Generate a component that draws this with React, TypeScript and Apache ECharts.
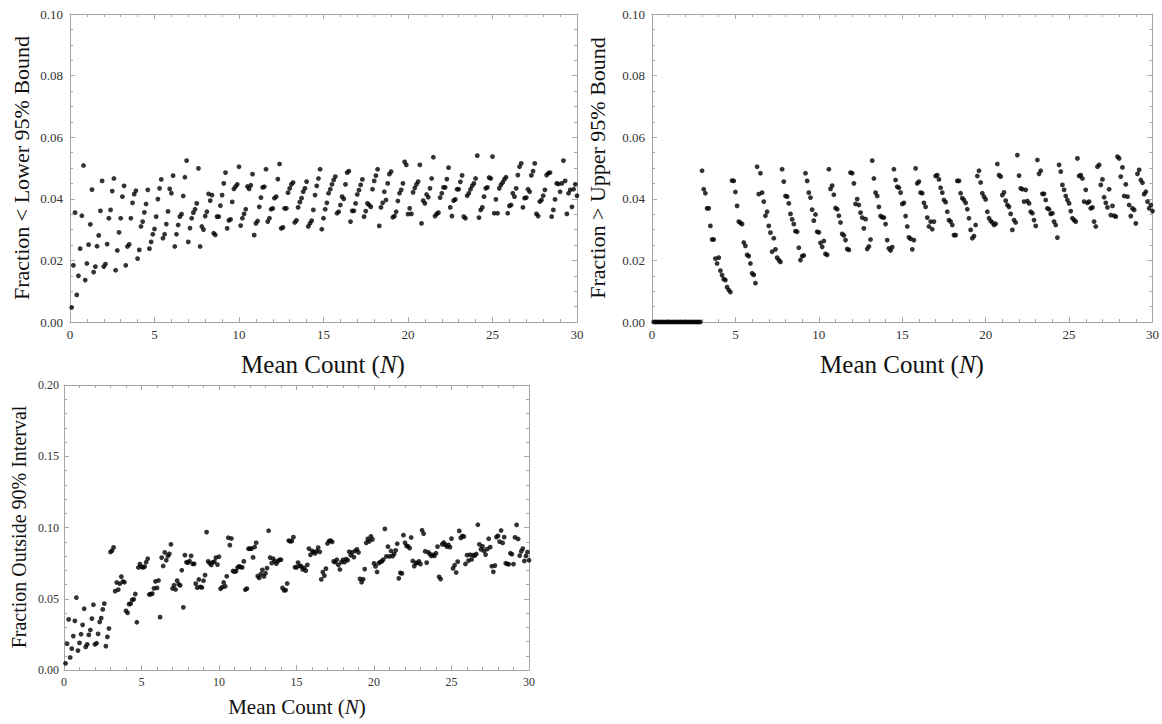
import React, { useEffect, useRef } from "react";
import * as echarts from "echarts";

// Mean count grid: N = 0.1, 0.2, ..., 30.0
const meanCounts: number[] = Array.from({ length: 300 }, (_, i) => (i + 1) / 10);

// Fraction < lower 95% bound (top-left panel)
const lowerFrac: number[] = [
  0.0047, 0.0184, 0.0355, 0.0088, 0.0150, 0.0238, 0.0345, 0.0508, 0.0136, 0.0190,
  0.0251, 0.0317, 0.0430, 0.0162, 0.0180, 0.0246, 0.0281, 0.0361, 0.0458, 0.0180,
  0.0188, 0.0253, 0.0337, 0.0364, 0.0425, 0.0466, 0.0168, 0.0232, 0.0291, 0.0337,
  0.0407, 0.0442, 0.0184, 0.0245, 0.0252, 0.0337, 0.0387, 0.0415, 0.0426, 0.0206,
  0.0234, 0.0310, 0.0326, 0.0356, 0.0383, 0.0429, 0.0238, 0.0260, 0.0285, 0.0302,
  0.0342, 0.0399, 0.0434, 0.0463, 0.0272, 0.0285, 0.0318, 0.0359, 0.0432, 0.0418,
  0.0475, 0.0245, 0.0285, 0.0315, 0.0342, 0.0350, 0.0409, 0.0470, 0.0524, 0.0260,
  0.0305, 0.0337, 0.0355, 0.0366, 0.0385, 0.0499, 0.0245, 0.0310, 0.0300, 0.0344,
  0.0358, 0.0416, 0.0394, 0.0412, 0.0288, 0.0283, 0.0342, 0.0342, 0.0378, 0.0412,
  0.0450, 0.0485, 0.0304, 0.0330, 0.0333, 0.0390, 0.0432, 0.0440, 0.0447, 0.0504,
  0.0313, 0.0337, 0.0351, 0.0366, 0.0440, 0.0432, 0.0444, 0.0480, 0.0282, 0.0320,
  0.0328, 0.0374, 0.0404, 0.0437, 0.0439, 0.0496, 0.0326, 0.0337, 0.0366, 0.0369,
  0.0402, 0.0407, 0.0464, 0.0513, 0.0304, 0.0307, 0.0369, 0.0369, 0.0420, 0.0434,
  0.0447, 0.0453, 0.0323, 0.0330, 0.0372, 0.0389, 0.0402, 0.0423, 0.0434, 0.0456,
  0.0310, 0.0320, 0.0329, 0.0364, 0.0412, 0.0442, 0.0466, 0.0496, 0.0301, 0.0337,
  0.0366, 0.0387, 0.0418, 0.0431, 0.0447, 0.0461, 0.0472, 0.0353, 0.0358, 0.0380,
  0.0407, 0.0400, 0.0447, 0.0485, 0.0490, 0.0326, 0.0361, 0.0361, 0.0385, 0.0414,
  0.0428, 0.0445, 0.0463, 0.0342, 0.0360, 0.0385, 0.0380, 0.0374, 0.0431, 0.0458,
  0.0475, 0.0496, 0.0312, 0.0372, 0.0387, 0.0423, 0.0396, 0.0450, 0.0480, 0.0488,
  0.0340, 0.0344, 0.0358, 0.0393, 0.0418, 0.0429, 0.0450, 0.0520, 0.0510, 0.0350,
  0.0369, 0.0351, 0.0421, 0.0435, 0.0447, 0.0456, 0.0510, 0.0320, 0.0394, 0.0385,
  0.0414, 0.0405, 0.0434, 0.0466, 0.0535, 0.0344, 0.0351, 0.0355, 0.0404, 0.0418,
  0.0437, 0.0437, 0.0464, 0.0501, 0.0372, 0.0344, 0.0394, 0.0398, 0.0431, 0.0431,
  0.0455, 0.0476, 0.0342, 0.0337, 0.0410, 0.0418, 0.0431, 0.0442, 0.0450, 0.0466,
  0.0540, 0.0339, 0.0364, 0.0372, 0.0407, 0.0434, 0.0437, 0.0469, 0.0466, 0.0537,
  0.0353, 0.0398, 0.0353, 0.0434, 0.0445, 0.0453, 0.0463, 0.0470, 0.0353, 0.0377,
  0.0380, 0.0418, 0.0407, 0.0434, 0.0477, 0.0504, 0.0515, 0.0372, 0.0402, 0.0404,
  0.0431, 0.0423, 0.0476, 0.0490, 0.0515, 0.0351, 0.0344, 0.0391, 0.0396, 0.0410,
  0.0429, 0.0477, 0.0483, 0.0485, 0.0342, 0.0364, 0.0398, 0.0450, 0.0448, 0.0423,
  0.0450, 0.0524, 0.0458, 0.0351, 0.0418, 0.0429, 0.0374, 0.0431, 0.0447, 0.0410,
];

// Fraction > upper 95% bound (top-right panel)
const upperFrac: number[] = [
  0, 0, 0, 0, 0, 0, 0, 0, 0, 0,
  0, 0, 0, 0, 0, 0, 0, 0, 0, 0,
  0, 0, 0, 0, 0, 0, 0, 0, 0,
  0.0491, 0.0431, 0.0418, 0.0369, 0.0369, 0.0312, 0.0268, 0.0268, 0.0206, 0.0190,
  0.0209, 0.0167, 0.0152, 0.0139, 0.0136, 0.0113, 0.0104, 0.0097, 0.0459, 0.0458,
  0.0422, 0.0377, 0.0326, 0.0322, 0.0318, 0.0258, 0.0247, 0.0218, 0.0214, 0.0190,
  0.0158, 0.0153, 0.0126, 0.0504, 0.0415, 0.0483, 0.0420, 0.0391, 0.0345, 0.0358,
  0.0312, 0.0290, 0.0228, 0.0272, 0.0236, 0.0209, 0.0201, 0.0195, 0.0496, 0.0456,
  0.0409, 0.0407, 0.0385, 0.0351, 0.0333, 0.0318, 0.0295, 0.0293, 0.0241, 0.0201,
  0.0214, 0.0216, 0.0483, 0.0458, 0.0420, 0.0404, 0.0365, 0.0329, 0.0349, 0.0293,
  0.0291, 0.0257, 0.0244, 0.0263, 0.0221, 0.0218, 0.0496, 0.0432, 0.0443, 0.0413,
  0.0370, 0.0366, 0.0345, 0.0323, 0.0286, 0.0281, 0.0266, 0.0237, 0.0234, 0.0485,
  0.0483, 0.0450, 0.0383, 0.0399, 0.0380, 0.0355, 0.0339, 0.0304, 0.0334, 0.0237,
  0.0245, 0.0268, 0.0524, 0.0466, 0.0420, 0.0409, 0.0374, 0.0344, 0.0340, 0.0339,
  0.0318, 0.0266, 0.0239, 0.0232, 0.0243, 0.0496, 0.0461, 0.0439, 0.0436, 0.0420,
  0.0383, 0.0387, 0.0344, 0.0310, 0.0275, 0.0270, 0.0236, 0.0266, 0.0499, 0.0450,
  0.0456, 0.0420, 0.0418, 0.0387, 0.0374, 0.0339, 0.0310, 0.0326, 0.0301, 0.0326,
  0.0474, 0.0477, 0.0463, 0.0436, 0.0420, 0.0396, 0.0389, 0.0358, 0.0331, 0.0326,
  0.0315, 0.0282, 0.0282, 0.0458, 0.0458, 0.0418, 0.0402, 0.0396, 0.0387, 0.0366,
  0.0337, 0.0299, 0.0272, 0.0279, 0.0315, 0.0474, 0.0491, 0.0453, 0.0418, 0.0407,
  0.0398, 0.0358, 0.0337, 0.0328, 0.0323, 0.0315, 0.0319, 0.0513, 0.0477, 0.0472,
  0.0412, 0.0421, 0.0394, 0.0380, 0.0374, 0.0351, 0.0299, 0.0331, 0.0323, 0.0542,
  0.0475, 0.0434, 0.0431, 0.0391, 0.0429, 0.0393, 0.0385, 0.0358, 0.0353, 0.0331,
  0.0312, 0.0526, 0.0481, 0.0491, 0.0416, 0.0416, 0.0396, 0.0369, 0.0366, 0.0351,
  0.0353, 0.0326, 0.0315, 0.0274, 0.0510, 0.0488, 0.0445, 0.0429, 0.0409, 0.0396,
  0.0385, 0.0360, 0.0337, 0.0331, 0.0326, 0.0531, 0.0474, 0.0477, 0.0466, 0.0391,
  0.0429, 0.0387, 0.0391, 0.0369, 0.0372, 0.0326, 0.0310, 0.0504, 0.0510, 0.0445,
  0.0463, 0.0405, 0.0387, 0.0372, 0.0431, 0.0347, 0.0377, 0.0345, 0.0342, 0.0537,
  0.0531, 0.0472, 0.0502, 0.0409, 0.0447, 0.0407, 0.0380, 0.0344, 0.0369, 0.0364,
  0.0320, 0.0481, 0.0494, 0.0461, 0.0452, 0.0415, 0.0423, 0.0391, 0.0369, 0.0380,
  0.0360,
];

// Fraction outside 90% interval (bottom-left panel)
const outsideFrac: number[] = [
  0.0047, 0.0184, 0.0355, 0.0088, 0.0150, 0.0238, 0.0345, 0.0508, 0.0136, 0.0190,
  0.0251, 0.0317, 0.0430, 0.0162, 0.0180, 0.0246, 0.0281, 0.0361, 0.0458, 0.0180,
  0.0188, 0.0253, 0.0337, 0.0364, 0.0425, 0.0466, 0.0168, 0.0232, 0.0291, 0.0828,
  0.0838, 0.0860, 0.0553, 0.0614, 0.0564, 0.0605, 0.0655, 0.0621, 0.0616, 0.0415,
  0.0401, 0.0462, 0.0465, 0.0492, 0.0496, 0.0533, 0.0335, 0.0719, 0.0743, 0.0724,
  0.0719, 0.0725, 0.0756, 0.0781, 0.0530, 0.0532, 0.0536, 0.0573, 0.0622, 0.0576,
  0.0628, 0.0371, 0.0789, 0.0730, 0.0825, 0.0770, 0.0800, 0.0815, 0.0882, 0.0572,
  0.0595, 0.0565, 0.0627, 0.0602, 0.0594, 0.0700, 0.0440, 0.0806, 0.0756, 0.0753,
  0.0765, 0.0801, 0.0745, 0.0745, 0.0606, 0.0578, 0.0635, 0.0583, 0.0579, 0.0626,
  0.0666, 0.0968, 0.0762, 0.0750, 0.0737, 0.0755, 0.0761, 0.0789, 0.0740, 0.0795,
  0.0570, 0.0581, 0.0614, 0.0587, 0.0658, 0.0928, 0.0876, 0.0923, 0.0695, 0.0690,
  0.0694, 0.0719, 0.0727, 0.0723, 0.0720, 0.0762, 0.0563, 0.0571, 0.0851, 0.0852,
  0.0852, 0.0790, 0.0863, 0.0893, 0.0659, 0.0646, 0.0673, 0.0703, 0.0657, 0.0679,
  0.0715, 0.0977, 0.0789, 0.0750, 0.0781, 0.0763, 0.0746, 0.0763, 0.0773, 0.0774,
  0.0576, 0.0559, 0.0561, 0.0607, 0.0908, 0.0903, 0.0905, 0.0932, 0.0721, 0.0720,
  0.0753, 0.0731, 0.0728, 0.0706, 0.0717, 0.0697, 0.0738, 0.0852, 0.0808, 0.0836,
  0.0827, 0.0818, 0.0834, 0.0859, 0.0829, 0.0636, 0.0687, 0.0662, 0.0711, 0.0888,
  0.0905, 0.0908, 0.0899, 0.0762, 0.0756, 0.0774, 0.0738, 0.0705, 0.0757, 0.0773,
  0.0757, 0.0778, 0.0770, 0.0830, 0.0805, 0.0825, 0.0792, 0.0837, 0.0846, 0.0825,
  0.0639, 0.0616, 0.0637, 0.0708, 0.0892, 0.0920, 0.0903, 0.0938, 0.0917, 0.0748,
  0.0727, 0.0688, 0.0749, 0.0758, 0.0762, 0.0775, 0.0990, 0.0797, 0.0866, 0.0797,
  0.0835, 0.0799, 0.0814, 0.0840, 0.0886, 0.0643, 0.0682, 0.0678, 0.0946, 0.0893,
  0.0871, 0.0868, 0.0855, 0.0930, 0.0765, 0.0729, 0.0752, 0.0751, 0.0762, 0.0743,
  0.0981, 0.0957, 0.0833, 0.0753, 0.0826, 0.0814, 0.0800, 0.0808, 0.0801, 0.0819,
  0.0866, 0.0654, 0.0638, 0.0882, 0.0895, 0.0879, 0.0866, 0.0878, 0.0862, 0.0922,
  0.0713, 0.0735, 0.0684, 0.0760, 0.0976, 0.0927, 0.0940, 0.0936, 0.0744, 0.0806,
  0.0767, 0.0809, 0.0776, 0.0806, 0.0803, 0.0814, 0.1019, 0.0882, 0.0847, 0.0867,
  0.0836, 0.0810, 0.0848, 0.0921, 0.0862, 0.0728, 0.0689, 0.0733, 0.0933, 0.0941,
  0.0901, 0.0979, 0.0892, 0.0932, 0.0749, 0.0744, 0.0742, 0.0819, 0.0812, 0.0743,
  0.0931, 0.1018, 0.0919, 0.0803, 0.0833, 0.0852, 0.0765, 0.0800, 0.0827, 0.0770,
];

const xTicks = { min: 0, max: 30, interval: 5 };
const yTicksTop = { min: 0, max: 0.1, interval: 0.02, minorSplit: 4 };
const yTicksBottom = { min: 0, max: 0.2, interval: 0.05, minorSplit: 5 };

const xTitle = "Mean Count ";
const yTitles = [
  "Fraction < Lower 95% Bound",
  "Fraction > Upper 95% Bound",
  "Fraction Outside 90% Interval",
];

const FONT = "Liberation Serif";
const FRAME = "#a6a6a6";
const LABEL = "#333";

function pairs(ys: number[]) {
  return meanCounts.map((n, i) => [n, ys[i]]);
}

function xAxes(g: number, fontSize: number) {
  const base = {
    type: "value" as const,
    gridIndex: g,
    min: xTicks.min,
    max: xTicks.max,
    interval: xTicks.interval,
    splitLine: { show: false },
    axisLine: { show: true, onZero: false, lineStyle: { color: FRAME, width: 1 } },
    axisTick: { show: true, inside: true, length: 5, lineStyle: { color: FRAME } },
    minorTick: { show: true, splitNumber: 5, length: 3, lineStyle: { color: FRAME } },
  };
  return [
    {
      ...base,
      position: "bottom",
      axisLabel: { show: true, margin: 6, fontFamily: FONT, fontSize, color: LABEL },
    },
    { ...base, position: "top", axisLabel: { show: false } },
  ];
}

function yAxes(g: number, t: any, fontSize: number, margin: number) {
  const base = {
    type: "value" as const,
    gridIndex: g,
    min: t.min,
    max: t.max,
    interval: t.interval,
    splitLine: { show: false },
    axisLine: { show: true, onZero: false, lineStyle: { color: FRAME, width: 1 } },
    axisTick: { show: true, inside: true, length: 5, lineStyle: { color: FRAME } },
    minorTick: { show: true, splitNumber: t.minorSplit, length: 3, lineStyle: { color: FRAME } },
  };
  return [
    {
      ...base,
      position: "left",
      axisLabel: {
        show: true,
        margin,
        fontFamily: FONT,
        fontSize,
        color: LABEL,
        formatter: (v: number) => v.toFixed(2),
      },
    },
    { ...base, position: "right", axisLabel: { show: false } },
  ];
}

function scatter(g: number, ys: number[]) {
  return {
    type: "scatter",
    xAxisIndex: g * 2,
    yAxisIndex: g * 2,
    data: pairs(ys),
    symbol: "circle",
    symbolSize: 4.8,
    itemStyle: { color: "#000" },
    silent: true,
  };
}

function xName(x: number, y: number, size: number) {
  return {
    type: "text",
    x,
    y,
    style: {
      text: xTitle + "({it|N})",
      fontFamily: FONT,
      fontSize: size,
      fill: "#111",
      align: "center",
      verticalAlign: "middle",
      rich: { it: { fontStyle: "italic", fontFamily: FONT, fontSize: size, fill: "#111" } },
    },
  };
}

function yName(text: string, x: number, y: number, size: number) {
  return {
    type: "text",
    x,
    y,
    rotation: Math.PI / 2,
    style: {
      text,
      fontFamily: FONT,
      fontSize: size,
      fill: "#111",
      align: "center",
      verticalAlign: "middle",
    },
  };
}

export default function App() {
  const ref = useRef<HTMLDivElement>(null);
  useEffect(() => {
    if (!ref.current) return;
    const chart = echarts.init(ref.current, undefined, { renderer: "svg" });
    chart.setOption({
      animation: false,
      backgroundColor: "#fff",
      textStyle: { fontFamily: FONT },
      grid: [
        { left: 70, top: 14, width: 507, height: 308 },
        { left: 652, top: 14, width: 501, height: 308 },
        { left: 64, top: 385, width: 465, height: 285 },
      ],
      xAxis: [...xAxes(0, 13), ...xAxes(1, 13), ...xAxes(2, 12)],
      yAxis: [
        ...yAxes(0, yTicksTop, 13, 7),
        ...yAxes(1, yTicksTop, 13, 7),
        ...yAxes(2, yTicksBottom, 12, 5),
      ],
      series: [scatter(0, lowerFrac), scatter(1, upperFrac), scatter(2, outsideFrac)],
      graphic: [
        xName(323, 364, 25),
        xName(902, 364, 25),
        xName(297, 707, 21),
        yName(yTitles[0], 21, 168, 22),
        yName(yTitles[1], 597, 168, 22),
        yName(yTitles[2], 19, 527, 20),
      ],
    });
    return () => chart.dispose();
  }, []);
  return (
    <div
      ref={ref}
      style={{ position: "absolute", left: 0, top: 0, width: 1162, height: 724 }}
    />
  );
}
